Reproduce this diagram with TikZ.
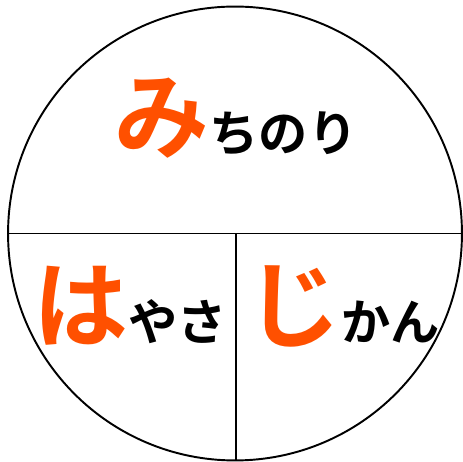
\documentclass[tikz,border=0pt]{standalone}
\usepackage{fontspec}
\usepackage{xcolor}
\usepackage{tikz}
\usetikzlibrary{positioning,calc}
\newfontfamily\jpfont{Noto Sans CJK JP}[BoldFont=* Bold]
\definecolor{kanaorange}{HTML}{FF5000}
\newcommand{\bigkana}[1]{{\fontsize{54}{54}\selectfont\color{kanaorange}#1}}

\begin{document}
\begin{tikzpicture}[
    x=0.02cm,y=-0.02cm,
    rim/.style  = {draw=black,line width=1.1pt,circle,inner sep=0pt,minimum size=9.08cm},
    cut/.style  = {draw=black,line width=0.9pt},
    word/.style = {font=\jpfont\bfseries\fontsize{28}{28}\selectfont,inner sep=0pt,anchor=base},
  ]
  \useasboundingbox (0,0) rectangle (463,462);

  % Cercle
  \node[rim] (disk) at (235,233.5) {};

  % Partage
  \coordinate (mid) at (disk.center -| 236,0);
  \draw[cut] (disk.west) -- (disk.east);
  \draw[cut] (mid) -- (mid |- disk.south);

  % Mots
  \node[word] (michinori) at (236,152) {\bigkana{み}ちのり};
  \node[word] (hayasa)    at (130,340) {\bigkana{は}やさ};
  \node[word] (jikan)     at (343,340) {\bigkana{じ}かん};

\end{tikzpicture}
\end{document}
